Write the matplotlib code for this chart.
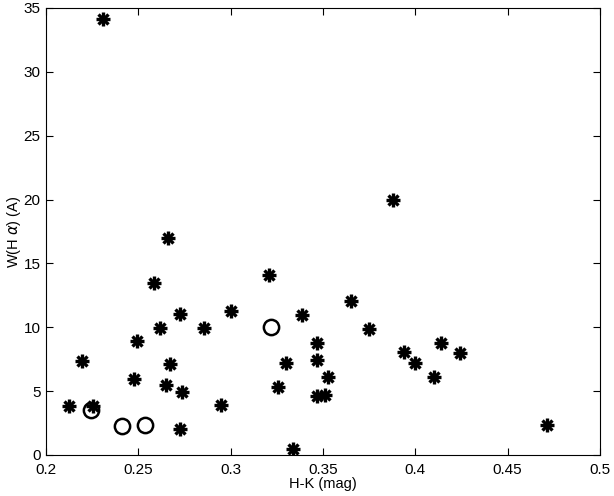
import matplotlib
matplotlib.use("Agg")
import matplotlib.pyplot as plt

star_x = [0.2308, 0.3878, 0.2659, 0.3210, 0.2587, 0.3650, 0.3001, 0.2727, 0.3386,
          0.2617, 0.2857, 0.3748, 0.2495, 0.3467, 0.4139, 0.3941, 0.4241, 0.2193,
          0.3467, 0.3301, 0.3997, 0.2674, 0.3529, 0.4103, 0.2476, 0.2651, 0.3257,
          0.2736, 0.3465, 0.3510, 0.2948, 0.2125, 0.2255, 0.2727, 0.4713, 0.3337]
star_y = [34.15, 19.94, 17.02, 14.13, 13.46, 12.04, 11.24, 11.02, 10.94,
          9.93, 9.93, 9.85, 8.96, 8.75, 8.75, 8.03, 7.95, 7.33,
          7.41, 7.22, 7.22, 7.09, 6.13, 6.13, 5.94, 5.46, 5.33,
          4.92, 4.63, 4.71, 3.93, 3.85, 3.85, 2.01, 2.35, 0.48]
circ_x = [0.3218, 0.2245, 0.2410, 0.2538]
circ_y = [10.0, 3.5, 2.27, 2.38]

xticks = [0.2, 0.25, 0.3, 0.35, 0.4, 0.45, 0.5]
xticklabels = ["0.2", "0.25", "0.3", "0.35", "0.4", "0.45", "0.5"]
yticks = [0, 5, 10, 15, 20, 25, 30, 35]

plt.rcParams['font.family'] = ['Liberation Sans', 'DejaVu Sans']
fig = plt.figure(figsize=(6.14, 4.96), dpi=100)
ax = fig.add_axes([0.0749, 0.0827, 0.9023, 0.9013])

ax.plot(star_x, star_y, linestyle='none', marker='+', markersize=10.5, mew=2.4, color='black')
ax.plot(star_x, star_y, linestyle='none', marker='x', markersize=7.5, mew=2.4, color='black')
ax.plot(circ_x, circ_y, linestyle='none', marker='o', markersize=11, mew=1.8,
        markerfacecolor='none', markeredgecolor='black')

ax.set_xlim(0.2, 0.5)
ax.set_ylim(0, 35)
ax.set_xticks(xticks)
ax.set_xticklabels(xticklabels)
ax.set_yticks(yticks)
ax.tick_params(direction='in', top=True, right=True, labelsize=11, length=5)
ax.tick_params(axis='x', pad=6)
ax.tick_params(axis='y', pad=4)
for s in ax.spines.values():
    s.set_linewidth(0.8)
ax.set_xlabel('H-K (mag)', fontsize=10.5, labelpad=0)
ax.set_ylabel(r'W(H $\alpha$) (A)', fontsize=10.5, labelpad=0)

fig.savefig('out.png', dpi=100)
